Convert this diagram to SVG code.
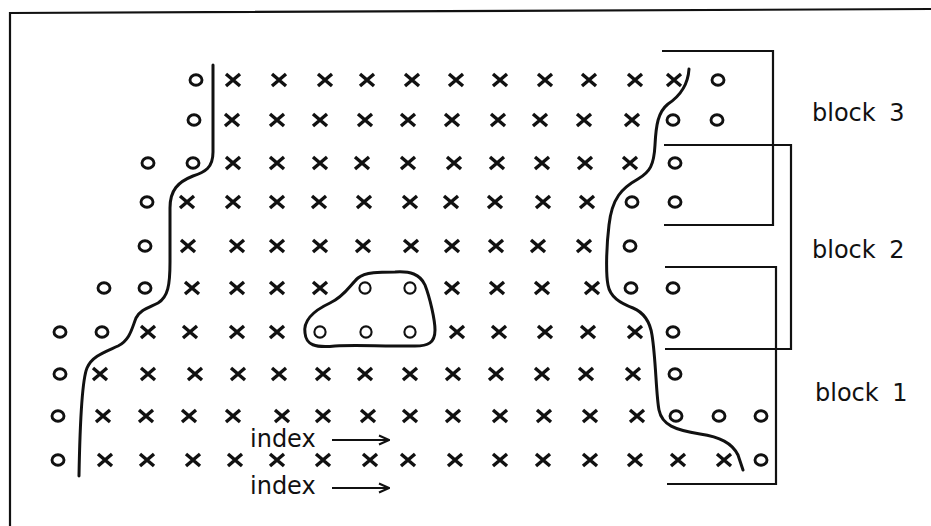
<svg xmlns="http://www.w3.org/2000/svg" xmlns:xlink="http://www.w3.org/1999/xlink" width="931" height="526" viewBox="0 0 931 526">
<style>
.ln{fill:none;stroke:#111;stroke-width:2.2;stroke-linejoin:miter}
.cv{fill:none;stroke:#111;stroke-width:3;stroke-linecap:round;stroke-linejoin:round}
.lbl{font-family:"DejaVu Sans",sans-serif;font-size:24px;fill:#111}
.ar{fill:none;stroke:#111;stroke-width:2}
</style>
<defs>
<path id="X" d="M-7,-6 L7,6 M-7,6 L7,-6" fill="none" stroke="#111" stroke-width="3.4"/>
<ellipse id="O" rx="6" ry="5.2" fill="none" stroke="#111" stroke-width="2.9"/>
<circle id="OL" r="5.6" fill="none" stroke="#111" stroke-width="2.1"/>
<marker id="arr" viewBox="0 0 12 12" refX="11" refY="6" markerWidth="12" markerHeight="12" markerUnits="userSpaceOnUse" orient="auto">
<path d="M1,1.5 L11,6 L1,10.5" fill="none" stroke="#111" stroke-width="2"/>
</marker>
</defs>
<rect width="931" height="526" fill="#fff"/>
<path id="frame" class="ln" d="M10,526 L10,13 L931,9" stroke-width="2.6"/>

<g id="row1">
<use href="#O" x="196" y="80"/>
<use href="#X" x="233" y="80"/><use href="#X" x="279" y="80"/><use href="#X" x="325" y="80"/><use href="#X" x="367" y="80"/><use href="#X" x="412" y="80"/><use href="#X" x="456" y="80"/><use href="#X" x="500" y="80"/><use href="#X" x="545" y="80"/><use href="#X" x="589" y="80"/><use href="#X" x="635" y="80"/><use href="#X" x="674" y="80"/>
<use href="#O" x="718" y="80"/>
</g>
<g id="row2">
<use href="#O" x="194" y="120"/>
<use href="#X" x="232" y="120"/><use href="#X" x="277" y="120"/><use href="#X" x="320" y="120"/><use href="#X" x="365" y="120"/><use href="#X" x="408" y="120"/><use href="#X" x="452" y="120"/><use href="#X" x="498" y="120"/><use href="#X" x="540" y="120"/><use href="#X" x="584" y="120"/><use href="#X" x="632" y="120"/>
<use href="#O" x="673" y="120"/><use href="#O" x="717" y="120"/>
</g>
<g id="row3">
<use href="#O" x="148" y="163"/><use href="#O" x="193" y="163"/>
<use href="#X" x="233" y="163"/><use href="#X" x="277" y="163"/><use href="#X" x="320" y="163"/><use href="#X" x="362" y="163"/><use href="#X" x="408" y="163"/><use href="#X" x="454" y="163"/><use href="#X" x="497" y="163"/><use href="#X" x="542" y="163"/><use href="#X" x="585" y="163"/><use href="#X" x="630" y="163"/>
<use href="#O" x="675" y="163"/>
</g>
<g id="row4">
<use href="#O" x="147" y="202"/>
<use href="#X" x="187" y="202"/><use href="#X" x="233" y="202"/><use href="#X" x="277" y="202"/><use href="#X" x="319" y="202"/><use href="#X" x="364" y="202"/><use href="#X" x="410" y="202"/><use href="#X" x="451" y="202"/><use href="#X" x="495" y="202"/><use href="#X" x="543" y="202"/><use href="#X" x="587" y="202"/>
<use href="#O" x="632" y="202"/><use href="#O" x="675" y="202"/>
</g>
<g id="row5">
<use href="#O" x="145" y="246"/>
<use href="#X" x="188" y="246"/><use href="#X" x="237" y="246"/><use href="#X" x="277" y="246"/><use href="#X" x="320" y="246"/><use href="#X" x="363" y="246"/><use href="#X" x="411" y="246"/><use href="#X" x="452" y="246"/><use href="#X" x="496" y="246"/><use href="#X" x="538" y="246"/><use href="#X" x="584" y="246"/>
<use href="#O" x="630" y="246"/>
</g>
<g id="row6">
<use href="#O" x="104" y="288"/><use href="#O" x="145" y="288"/>
<use href="#X" x="192" y="288"/><use href="#X" x="237" y="288"/><use href="#X" x="277" y="288"/><use href="#X" x="320" y="288"/>
<use href="#OL" x="365" y="288"/><use href="#OL" x="410" y="288"/>
<use href="#X" x="452" y="288"/><use href="#X" x="497" y="288"/><use href="#X" x="542" y="288"/><use href="#X" x="592" y="288"/>
<use href="#O" x="631" y="288"/><use href="#O" x="673" y="288"/>
</g>
<g id="row7">
<use href="#O" x="60" y="332"/><use href="#O" x="102" y="332"/>
<use href="#X" x="148" y="332"/><use href="#X" x="190" y="332"/><use href="#X" x="237" y="332"/><use href="#X" x="277" y="332"/>
<use href="#OL" x="320" y="332"/><use href="#OL" x="366" y="332"/><use href="#OL" x="410" y="332"/>
<use href="#X" x="457" y="332"/><use href="#X" x="499" y="332"/><use href="#X" x="545" y="332"/><use href="#X" x="588" y="332"/><use href="#X" x="635" y="332"/>
<use href="#O" x="673" y="332"/>
</g>
<g id="row8">
<use href="#O" x="60" y="374"/>
<use href="#X" x="100" y="374"/><use href="#X" x="148" y="374"/><use href="#X" x="195" y="374"/><use href="#X" x="238" y="374"/><use href="#X" x="279" y="374"/><use href="#X" x="323" y="374"/><use href="#X" x="365" y="374"/><use href="#X" x="410" y="374"/><use href="#X" x="453" y="374"/><use href="#X" x="496" y="374"/><use href="#X" x="542" y="374"/><use href="#X" x="586" y="374"/><use href="#X" x="633" y="374"/>
<use href="#O" x="675" y="374"/>
</g>
<g id="row9">
<use href="#O" x="58" y="416"/>
<use href="#X" x="103" y="416"/><use href="#X" x="146" y="416"/><use href="#X" x="189" y="416"/><use href="#X" x="233" y="416"/><use href="#X" x="282" y="416"/><use href="#X" x="323" y="416"/><use href="#X" x="368" y="416"/><use href="#X" x="410" y="416"/><use href="#X" x="453" y="416"/><use href="#X" x="500" y="416"/><use href="#X" x="544" y="416"/><use href="#X" x="590" y="416"/><use href="#X" x="637" y="416"/>
<use href="#O" x="676" y="416"/><use href="#O" x="719" y="416"/><use href="#O" x="761" y="416"/>
</g>
<g id="row10">
<use href="#O" x="58" y="460"/>
<use href="#X" x="105" y="460"/><use href="#X" x="147" y="460"/><use href="#X" x="193" y="460"/><use href="#X" x="235" y="460"/><use href="#X" x="277" y="460"/><use href="#X" x="323" y="460"/><use href="#X" x="370" y="460"/><use href="#X" x="408" y="460"/><use href="#X" x="455" y="460"/><use href="#X" x="500" y="460"/><use href="#X" x="543" y="460"/><use href="#X" x="590" y="460"/><use href="#X" x="635" y="460"/><use href="#X" x="678" y="460"/><use href="#X" x="724" y="460"/>
<use href="#O" x="761" y="460"/>
</g>

<g id="curves">
<path class="cv" d="M213,65 L213,152 C213,168 205,172 193,176 C178,182 170,190 170,208 L170,262 C170,285 168,297 158,303 C148,308 140,310 136,318 C132,328 130,340 118,346 C105,352 92,356 87,368 C82,380 80,420 79,476"/>
<path class="cv" d="M689,69 C688,85 680,96 668,104 C658,112 656,125 655,145 C654,165 650,172 638,179 C622,188 612,198 609,225 C606,250 606,275 608,285 C610,297 620,303 633,308 C645,313 650,322 652,335 C656,360 656,395 659,410 C662,425 675,430 700,434 C720,437 732,443 738,455 L743,470"/>
<path class="cv" d="M305,333 C303,320 315,310 330,303 C345,296 350,285 358,278 C365,272 380,272 395,272 C410,271 420,274 425,285 C430,298 435,320 435,330 C435,343 428,346 415,346 L393,346 C375,346 355,345 335,346 C315,348 306,345 305,333 Z"/>
</g>

<g id="block3">
<path class="ln" d="M662,51 L773,51 L773,225 L664,225"/>
<text class="lbl" x="812" y="121" word-spacing="6">block 3</text>
</g>
<g id="block2">
<path class="ln" d="M664,145 L791,145 L791,349 L665,349"/>
<text class="lbl" x="812" y="258" word-spacing="6">block 2</text>
</g>
<g id="block1">
<path class="ln" d="M665,267 L776,267 L776,484 L667,484"/>
<text class="lbl" x="815" y="401" word-spacing="6">block 1</text>
</g>

<g id="index-labels">
<text class="lbl" x="250" y="447">index</text>
<line class="ar" x1="332" y1="440" x2="389" y2="440" marker-end="url(#arr)"/>
<text class="lbl" x="250" y="494">index</text>
<line class="ar" x1="332" y1="488" x2="389" y2="488" marker-end="url(#arr)"/>
</g>
</svg>
